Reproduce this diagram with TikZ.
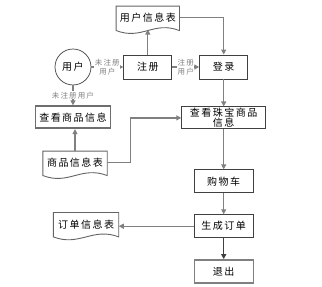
\documentclass[tikz,border=0pt]{standalone}
\usepackage{fontspec}
\setmainfont[LetterSpace=15]{Noto Sans CJK SC}
\usepackage{tikz}
\usetikzlibrary{arrows.meta, positioning}
\definecolor{boxgray}{RGB}{64,64,64}
\definecolor{linegray}{RGB}{128,128,128}
\definecolor{docgray}{RGB}{100,100,100}
\definecolor{thickgray}{RGB}{110,110,110}
\tikzset{
  box/.style={rectangle, draw=boxgray, fill=white, minimum width=59pt,
    minimum height=23pt, line width=0.9pt, inner sep=1pt, align=center,
    font=\fontsize{10}{11}\selectfont},
  docbox/.style={rectangle, minimum width=64pt, minimum height=23pt,
    inner sep=1pt, align=center, font=\fontsize{10}{11}\selectfont},
  userball/.style={circle, draw=boxgray, line width=0.7pt, minimum size=36pt,
    inner sep=0pt, font=\fontsize{10}{11}\selectfont},
  docline/.style={draw=docgray, line width=0.9pt, fill=white},
  lbl/.style={fill=white, inner sep=0.5pt, align=center,
    font=\fontsize{7.5}{8.5}\selectfont},
  arrow/.style={-{Triangle[length=5pt,width=5pt]}, line width=1.2pt, color=linegray},
  darkarrow/.style={color=boxgray}
}
% wavy bottom document outline
\newcommand{\docoutline}[1]{%
  \draw[docline] ([yshift=-1pt]#1.south west) -- (#1.north west) -- (#1.north east)
    -- ([yshift=-1pt]#1.south east)
    .. controls ([xshift=-26pt,yshift=9pt]#1.south east) and ([xshift=26pt,yshift=-11pt]#1.south west) ..
    ([yshift=-1pt]#1.south west) -- cycle;}

\begin{document}
\begin{tikzpicture}[node distance=25pt and 30pt]
  \useasboundingbox (0,0) rectangle (322pt,-287pt);

  % top row
  \node[userball] (user) at (73pt,-67pt) {用户};
  \node[box, minimum width=48pt, minimum height=24pt, right=32pt of user] (zhuce) {注册};
  \node[box, minimum width=48pt, minimum height=24pt, right=27pt of zhuce] (denglu) {登录};
  \node[docbox, minimum width=63pt, above=25pt of zhuce] (userdoc) {用户信息表};
  \docoutline{userdoc}
  \node[docbox, minimum width=63pt, above=25pt of zhuce] {用户信息表};

  % left column
  \node[box, minimum width=75pt, minimum height=22pt, draw=thickgray, line width=1.8pt,
    below=20pt of user] (view) {查看商品信息};
  \node[docbox, below=22pt of view, xshift=2pt] (goods) {商品信息表};
  \docoutline{goods}
  \node[docbox, below=22pt of view, xshift=2pt] {商品信息表};

  % main column
  \node[box, minimum width=84pt, minimum height=22pt, text width=80pt,
    font=\fontsize{10}{10.5}\selectfont, below=27pt of denglu] (jewel) {查看珠宝商品\\信息};
  \node[box, below=40pt of jewel] (cart) {购物车};
  \node[box, below=21pt of cart] (order) {生成订单};
  \node[box, draw=linegray, line width=1.4pt, below=21pt of order] (exit) {退出};
  \node[docbox, minimum width=65pt, left=75pt of order, yshift=2pt] (orderdoc) {订单信息表};
  \docoutline{orderdoc}
  \node[docbox, minimum width=65pt, left=75pt of order, yshift=2pt] {订单信息表};

  % connectors
  \draw[arrow] (user.east) -- node[lbl] {未注册\\用户} (zhuce.west);
  \draw[arrow] (zhuce.east) -- node[lbl] {注册\\用户} (denglu.west);
  \draw[arrow] (zhuce.north) -- (userdoc.south);
  \draw[arrow] (userdoc.east) -| (denglu.north);
  \draw[arrow] (denglu.south) -- (jewel.north);
  \draw[arrow] (user.south) -- node[lbl] {未注册用户} (view.north);
  \draw[arrow] (goods.north) -- (goods.north |- view.south);
  \draw[arrow] (goods.east) -- ++(23pt,0) |- (jewel.west);
  \draw[arrow] (jewel.south) -- (cart.north);
  \draw[arrow] (cart.south) -- (order.north);
  \draw[arrow, darkarrow] (order.south) -- (exit.north);
  \draw[arrow] (order.west) -- (orderdoc.east |- order.west);
\end{tikzpicture}
\end{document}
